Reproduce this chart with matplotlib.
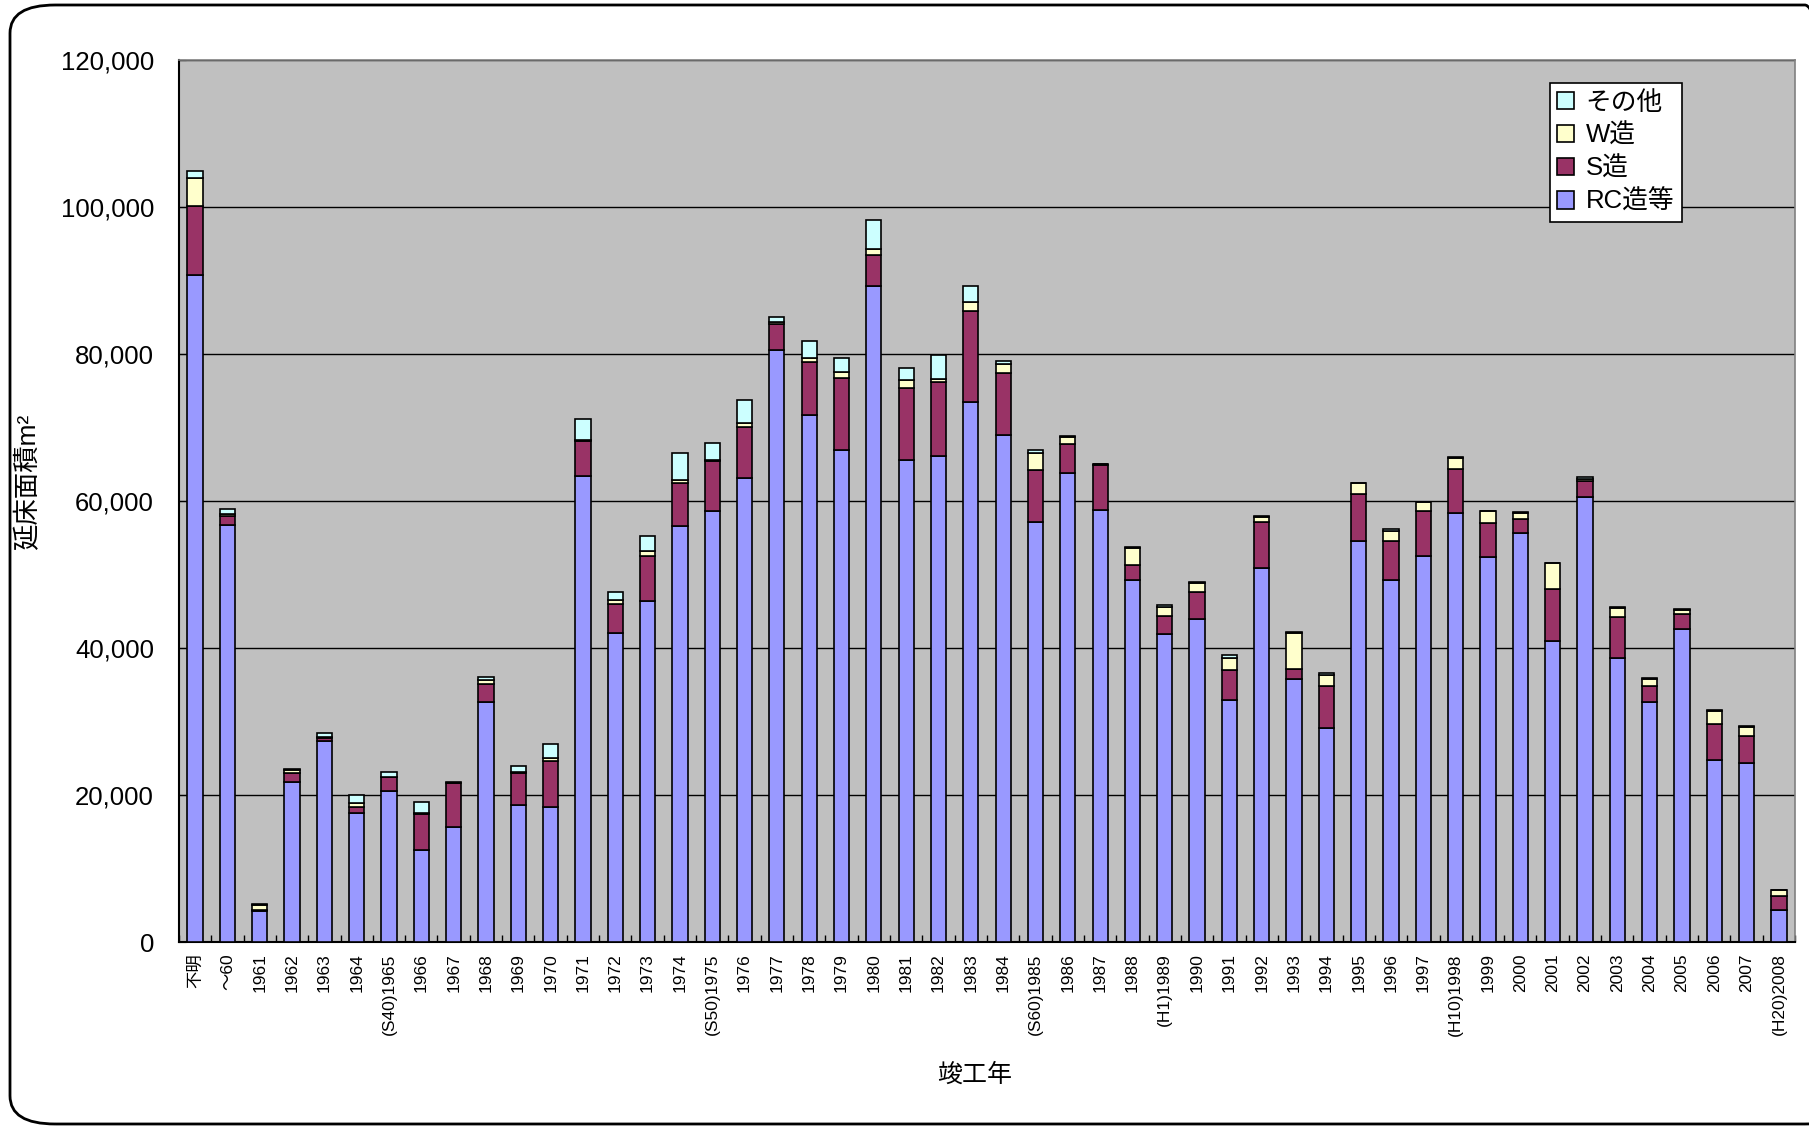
import numpy as np
import matplotlib.pyplot as plt
from matplotlib.patches import FancyBboxPatch
from matplotlib.ticker import FuncFormatter, FixedLocator

plt.rcParams['font.family'] = ['Liberation Sans', 'Noto Sans CJK JP']

# 竣工年ごとの延床面積（m2）
years = ['不明', '～60', '1961', '1962', '1963', '1964', '(S40)1965', '1966', '1967',
         '1968', '1969', '1970', '1971', '1972', '1973', '1974', '(S50)1975', '1976',
         '1977', '1978', '1979', '1980', '1981', '1982', '1983', '1984', '(S60)1985',
         '1986', '1987', '1988', '(H1)1989', '1990', '1991', '1992', '1993', '1994',
         '1995', '1996', '1997', '(H10)1998', '1999', '2000', '2001', '2002', '2003',
         '2004', '2005', '2006', '2007', '(H20)2008']

rc = [90700, 56800, 4200, 21800, 27300, 17500, 20500, 12500, 15700, 32700,
      18600, 18400, 63400, 42100, 46400, 56600, 58600, 63100, 80500, 71700,
      67000, 89300, 65600, 66100, 73500, 69000, 57100, 63800, 58800, 49300,
      41900, 43900, 32900, 50900, 35800, 29100, 54500, 49300, 52500, 58400,
      52400, 55700, 41000, 60500, 38700, 32700, 42600, 24800, 24300, 4400]
s_zou = [9400, 1200, 100, 1200, 400, 900, 1900, 4900, 5900, 2400,
         4400, 6200, 4800, 3900, 6100, 5900, 6900, 7000, 3600, 7200,
         9800, 4100, 9800, 10100, 12400, 8400, 7100, 4000, 6100, 2000,
         2500, 3700, 4100, 6300, 1400, 5800, 6500, 5200, 6100, 5900,
         4600, 1800, 7000, 2200, 5500, 2200, 2000, 4900, 3800, 1800]
w_zou = [3900, 300, 700, 400, 200, 500, 100, 100, 100, 500,
         100, 400, 100, 500, 700, 400, 100, 500, 300, 500,
         800, 900, 1000, 400, 1200, 1200, 2300, 900, 100, 2300,
         1200, 1300, 1700, 600, 4900, 1400, 1400, 1400, 1200, 1600,
         1600, 900, 3500, 300, 1300, 900, 600, 1800, 1200, 900]
other = [900, 600, 200, 100, 600, 1100, 700, 1600, 100, 400,
         800, 1900, 2800, 1100, 2000, 3600, 2300, 3200, 600, 2300,
         1800, 3900, 1700, 3300, 2200, 400, 400, 100, 100, 200,
         200, 100, 300, 100, 100, 300, 50, 300, 100, 50,
         100, 50, 50, 200, 50, 100, 100, 50, 50, 50]

series = [('RC造等', rc, '#9999FF'),
          ('S造', s_zou, '#993366'),
          ('W造', w_zou, '#FFFFCC'),
          ('その他', other, '#CCFFFF')]

fig = plt.figure(figsize=(18.09, 11.27), dpi=100)
ax = fig.add_axes([0.0989, 0.1641, 0.8934, 0.7827])
ax.set_facecolor('#C0C0C0')

x = np.arange(len(years))
bottom = np.zeros(len(years))
handles = []
for name, vals, col in series:
    b = ax.bar(x, vals, 0.47, bottom=bottom, color=col, edgecolor='black',
               linewidth=1.2, label=name, zorder=3)
    handles.append(b)
    bottom += np.array(vals)

ax.set_xlim(-0.5, len(years) - 0.5)
ax.set_ylim(0, 120000)
ax.set_yticks(np.arange(0, 120001, 20000))
ax.yaxis.set_major_formatter(FuncFormatter(lambda v, p: f'{v:,.0f}'))
ax.grid(axis='y', color='black', linewidth=1.0, zorder=1)

ax.set_xticks(x)
ax.set_xticklabels(years, rotation=90, fontsize=12.5)
ax.xaxis.set_minor_locator(FixedLocator(np.arange(-0.5, len(years), 1)))
ax.tick_params(axis='x', which='major', length=0, pad=8)
ax.tick_params(axis='x', which='minor', direction='in', length=5, width=1)
ax.tick_params(axis='y', direction='in', length=5, labelsize=18.5, pad=18)

for side in ['left', 'bottom']:
    ax.spines[side].set_color('black')
    ax.spines[side].set_linewidth(1.5)
for side in ['top', 'right']:
    ax.spines[side].set_color('#808080')
    ax.spines[side].set_linewidth(1.2)

leg = ax.legend(handles[::-1], [h.get_label() for h in handles[::-1]],
                loc='upper right', bbox_to_anchor=(0.930, 0.974), fontsize=18.5,
                frameon=True, fancybox=False, edgecolor='black', framealpha=1,
                handlelength=0.65, handleheight=0.65, handletextpad=0.45,
                labelspacing=0.35, borderpad=0.3, borderaxespad=0)
leg.get_frame().set_linewidth(1.2)

fig.text(28 / 1809, 1 - 482 / 1127, '延床面積m²', rotation=90, ha='center',
         va='center', fontsize=19)
fig.text(975 / 1809, 1 - 1075 / 1127, '竣工年', ha='center', va='center',
         fontsize=18)

border = FancyBboxPatch((10 / 1809, 3 / 1127), 1840 / 1809, 1119 / 1127,
                        boxstyle='round,pad=0,rounding_size=0.025',
                        transform=fig.transFigure, facecolor='none',
                        edgecolor='black', linewidth=2, zorder=-1)
fig.patches.append(border)

fig.savefig('out.png', dpi=100)
